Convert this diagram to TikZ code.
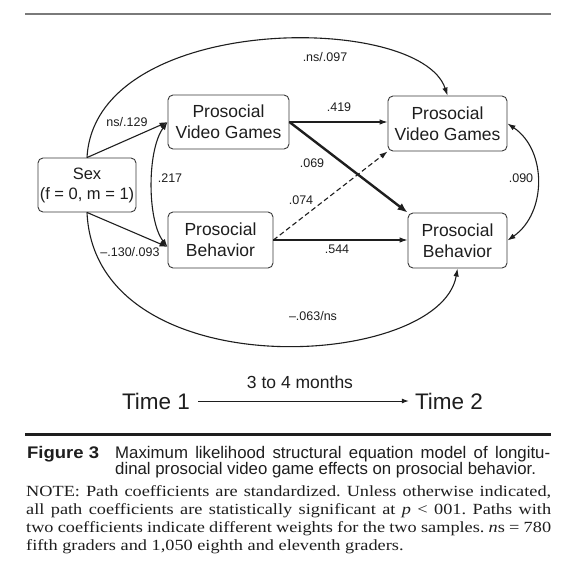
\documentclass[tikz,border=0pt]{standalone}
\usepackage{fontspec}
\setmainfont{Liberation Sans}
\newfontfamily\capserif[FakeStretch=1.18]{Liberation Serif}
\newfontfamily\capsans{Liberation Sans}
\newfontfamily\figfont[FakeStretch=1.1]{Liberation Sans Bold}
\usetikzlibrary{arrows.meta,calc}
\definecolor{ink}{HTML}{1E1E1E}
\definecolor{boxc}{HTML}{3A3A3A}
\definecolor{rulec}{HTML}{7A7A7A}
\frenchspacing
\begin{document}
\begin{tikzpicture}[x=1pt,y=-1pt,
  box/.style={draw=boxc, line width=0.9pt, rounded corners=5pt, align=center, inner sep=0pt, text=ink, font=\fontsize{17.5}{21}\selectfont},
  lbl/.style={inner sep=0pt, text=ink, font=\fontsize{12.5}{14}\selectfont},
  conn/.style={draw=ink, line width=1.1pt, -{Latex[length=8pt,width=5.5pt]}},
  both/.style={draw=ink, line width=1.1pt, {Latex[length=8pt,width=5.5pt]}-{Latex[length=8pt,width=5.5pt]}},
  thickconn/.style={draw=ink, line width=2.4pt, -{Latex[length=10pt,width=8pt]}},
  dashconn/.style={conn, dash pattern=on 5pt off 3pt},
  timetxt/.style={inner sep=0pt, text=ink, font=\fontsize{22.5}{26}\selectfont},
  capsansst/.style={anchor=base west, inner sep=0pt, text=ink, font=\capsans\fontsize{16.8}{17}\selectfont\frenchspacing},
  capserifst/.style={anchor=base west, inner sep=0pt, text=ink, font=\capserif\fontsize{15.5}{18}\selectfont\frenchspacing}]
\useasboundingbox (0,0) rectangle (575,576);
\fill[white] (0,0) rectangle (575,576);

% rules
\draw[line width=1.3pt, draw=rulec] (25,14) -- (551,14);
\draw[line width=3pt, draw=ink] (25,434) -- (551,434);

% boxes
\node[box, minimum width=98pt, minimum height=54pt, font=\fontsize{16.5}{20}\selectfont] (sex) at (87,185) {Sex\\(f = 0, m = 1)};
\node[box, minimum width=121pt, minimum height=54pt] (pvg1) at (228.5,122) {Prosocial\\Video Games};
\node[box, minimum width=119pt, minimum height=55pt] (pvg2) at (447.5,123.5) {Prosocial\\Video Games};
\node[box, minimum width=105pt, minimum height=56pt] (pb1) at (220.5,240) {Prosocial\\Behavior};
\node[box, minimum width=99pt, minimum height=55pt] (pb2) at (457.5,240.5) {Prosocial\\Behavior};

% connectors
\draw[conn] (sex.north) -- (pvg1.west);
\draw[conn] (sex.south) -- ([yshift=-7pt]pb1.west);
\draw[conn] (sex.north) .. controls (95,12) and (420,12) .. (pvg2.north);
\draw[conn] (sex.south) .. controls (95,390) and (440,370) .. (pb2.south);
\draw[both] (pvg1.west) .. controls (147,150) and (147,220) .. ([yshift=-7pt]pb1.west);
\draw[both] (pvg2.east) .. controls (547,150) and (547,213) .. (pb2.east);
\draw[conn] (pvg1.east) -- (pvg1.east -| pvg2.west);
\draw[thickconn] (pvg1.east) -- (pb2.north west);
\draw[conn] (pb1.east) -- (pb1.east -| pb2.west);
\draw[dashconn] (pb1.east) -- (pvg2.south west);

% labels
\node[lbl] (l097) at (325,57) {.ns/.097};
\node[lbl] (l129) at (127,122) {ns/.129};
\node[lbl] (l419) at (339,107) {.419};
\node[lbl] (l069) at (312,163) {.069};
\node[lbl] (l074) at (301,200) {.074};
\node[lbl] (l544) at (337,249) {.544};
\node[lbl] (l090) at (521,178) {.090};
\node[lbl] (l217) at (170,178) {.217};
\node[lbl] (l130) at (130,252) {–.130/.093};
\node[lbl] (l063) at (313,316) {–.063/ns};

% time row
\node[timetxt] (t1) at (156,401) {Time 1};
\node[timetxt] (t2) at (449,401) {Time 2};
\node[inner sep=0pt, text=ink, font=\fontsize{17.5}{20}\selectfont] (months) at (300,382) {3 to 4 months};
\draw[draw=ink, line width=1pt, -{Latex[length=7pt,width=5pt]}] ([xshift=8pt]t1.east) -- ([xshift=-6pt]t2.west);

% caption
\node[anchor=base west, inner sep=0pt, text=ink, font=\figfont\fontsize{16.8}{17}\selectfont] (fig) at (27,458) {Figure 3};
\node[capsansst] (c1) at (115,458) {\makebox[435pt][s]{Maximum likelihood structural equation model of longitu-}};
\node[capsansst] (c2) at (115,474) {dinal prosocial video game effects on prosocial behavior.};
\node[capserifst] (n1) at (26,496) {\makebox[525pt][s]{NOTE: Path coefficients are standardized. Unless otherwise indicated,}};
\node[capserifst] (n2) at (26,514) {\makebox[525pt][s]{all path coefficients are statistically significant at \emph{p} < 001. Paths with}};
\node[capserifst] (n3) at (26,532) {\makebox[525pt][s]{two coefficients indicate different weights for the two samples. \emph{n}s = 780}};
\node[capserifst] (n4) at (26,550) {fifth graders and 1,050 eighth and eleventh graders.};
\end{tikzpicture}
\end{document}
